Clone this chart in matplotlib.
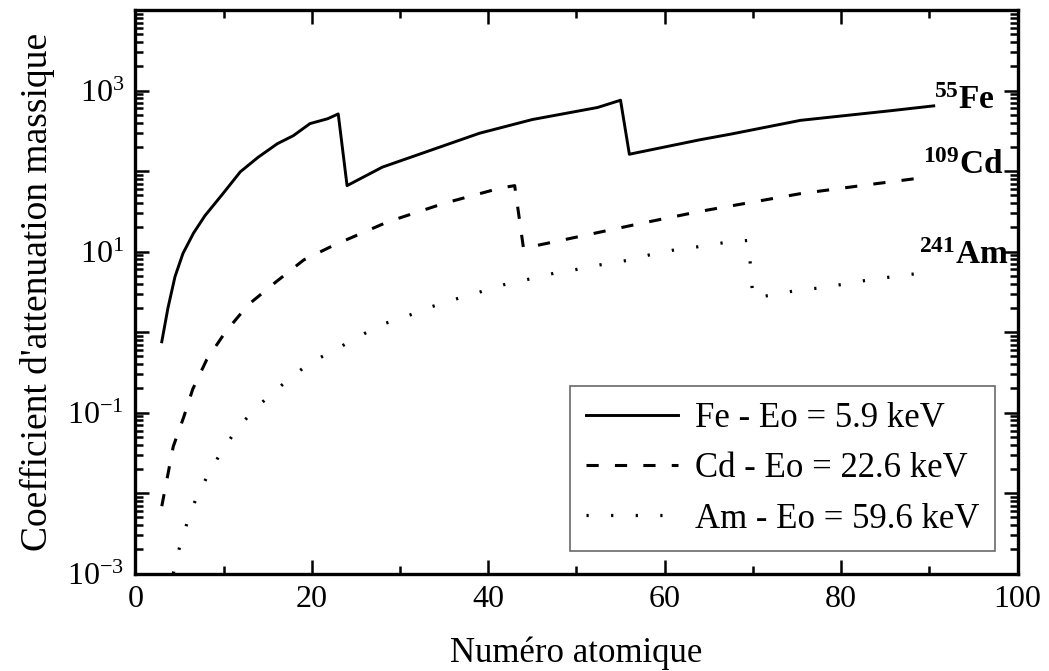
import matplotlib
matplotlib.use("Agg")
import matplotlib.pyplot as plt
from matplotlib.ticker import LogLocator, FuncFormatter, MultipleLocator, NullFormatter
import numpy as np

plt.rcParams['font.family'] = ['Liberation Serif', 'DejaVu Serif']
plt.rcParams['mathtext.fontset'] = 'custom'
plt.rcParams['mathtext.rm'] = 'Liberation Serif'
plt.rcParams['mathtext.bf'] = 'Liberation Serif:bold'

# numero atomique / coefficient
fe_z = [3, 3.7, 4.5, 5.4, 6.6, 7.9, 9.9, 11.9, 13.9, 16.1, 17.9, 19.8, 21.8, 23,
        24, 28, 39, 45, 52.4, 55,
        56, 64, 67.5, 75.4, 85.6, 90.5]
fe_mu = [0.76, 2.0, 4.9, 9.5, 17, 28, 52, 98, 148, 219, 275, 389, 447, 513,
         66, 112, 295, 437, 617, 759,
         162, 245, 288, 427, 562, 646]

cd_z = [3, 4.3, 5.5, 6.5, 8.1, 10.2, 12.8, 15.9, 19.1, 22.5, 28.6, 35, 41.4, 43,
        44, 50.8, 57.3, 64, 75.4, 83, 89.3]
cd_mu = [0.0069, 0.038, 0.089, 0.195, 0.457, 1.0, 2.19, 4.17, 7.9, 12, 23.4, 39.8, 61.7, 66,
         11, 15.8, 22.4, 31.6, 52.5, 67.6, 83]

am_z = [4.3, 5.0, 5.9, 6.9, 8.3, 9.9, 11.8, 14.4, 17.1, 19.8, 22.5, 25.2, 28.1, 30.8,
        33.4, 36.3, 39.1, 41.8, 44.7, 47.4, 50.1, 52.9, 55.7, 58.3, 61.1, 63.8, 66.7, 69.5,
        70, 72.2, 75, 77.7, 80.5, 83.2, 86, 88.8]
am_mu = [0.001, 0.0021, 0.0044, 0.0087, 0.0174, 0.0347, 0.069, 0.135, 0.245, 0.417, 0.589, 0.87, 1.26, 1.58,
         2.04, 2.57, 3.16, 3.89, 4.57, 5.37, 6.03, 6.92, 7.76, 9.12, 10.5, 11.5, 12.9, 13.8,
         2.69, 2.88, 3.31, 3.55, 3.98, 4.47, 4.9, 5.37]

labels = ['Fe - Eo = 5.9 keV', 'Cd - Eo = 22.6 keV', 'Am - Eo = 59.6 keV']

fig = plt.figure(figsize=(10.49, 6.71), dpi=100)
ax = fig.add_axes([0.129, 0.145, 0.841, 0.84])

ax.plot(fe_z, fe_mu, color='black', lw=2.1, label=labels[0])
ax.plot(cd_z, cd_mu, color='black', lw=2.2, dashes=(4.0, 5.3), label=labels[1])
ax.plot(am_z, am_mu, color='black', lw=2.3, dashes=(0.7, 7.0), label=labels[2])

ax.set_yscale('log')
ax.set_xlim(0, 100)
ax.set_ylim(1e-3, 1e4)

ax.xaxis.set_major_locator(MultipleLocator(20))
ax.xaxis.set_minor_locator(MultipleLocator(10))
ax.yaxis.set_major_locator(LogLocator(base=10, numticks=20))
ax.yaxis.set_minor_locator(LogLocator(base=10, subs=np.arange(2, 10), numticks=20))
ax.yaxis.set_minor_formatter(NullFormatter())


def fmt(v, pos):
    e = int(round(np.log10(v)))
    if e % 2 == 0:
        return ''
    return r'$\mathregular{10^{%d}}$' % e


ax.yaxis.set_major_formatter(FuncFormatter(fmt))

for s in ax.spines.values():
    s.set_linewidth(2.4)
ax.tick_params(which='both', direction='in', top=True, right=True, width=1.8, labelsize=23)
ax.tick_params(which='major', length=10, pad=8)
ax.tick_params(which='minor', length=6)

ax.set_xlabel('Numéro atomique', fontsize=25, labelpad=16)
ax.set_ylabel("Coefficient d'attenuation massique", fontsize=27, labelpad=9)

ax.text(90.5, 740, r'$\mathbf{^{55}Fe}$', fontsize=24, ha='left', va='center')
ax.text(89.3, 117, r'$\mathbf{^{109}Cd}$', fontsize=24, ha='left', va='center')
ax.text(88.8, 9, r'$\mathbf{^{241}Am}$', fontsize=24, ha='left', va='center')

leg = ax.legend(loc='lower right', bbox_to_anchor=(0.975, 0.04), fontsize=25, frameon=True,
                fancybox=False, edgecolor='#444444', handlelength=2.65, handletextpad=0.5,
                borderpad=0.45, labelspacing=0.5, borderaxespad=0)
leg.get_frame().set_linewidth(1.2)

fig.savefig('out.png', dpi=100)
